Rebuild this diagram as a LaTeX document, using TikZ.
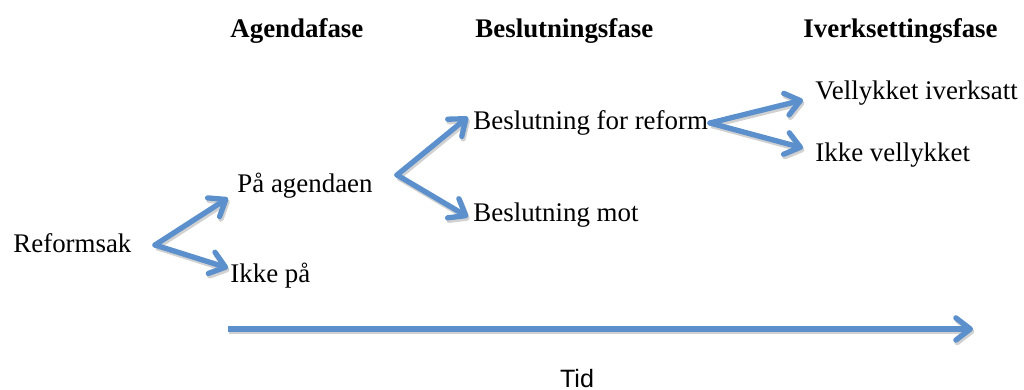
\documentclass[tikz,border=0pt]{standalone}
\usepackage{fontspec}
\setmainfont{Liberation Serif}
\setsansfont{Liberation Sans}
\usetikzlibrary{arrows.meta,positioning}
\definecolor{pilblaa}{RGB}{91,144,204}

\begin{document}
\begin{tikzpicture}[x=0.45pt,y=-0.45pt,
  every node/.style={inner sep=0pt,anchor=base west,font=\fontsize{12.1}{14}\selectfont},
  fase/.style={font=\fontsize{12.1}{14}\selectfont\bfseries},
  pil/.style={draw=pilblaa,line width=2.4pt,line cap=round,line join=round,
    -{Straight Barb[length=6.5pt,width=10pt,line cap=round,line join=round]},
    preaction={draw=black!18,line width=2.4pt,transform canvas={shift={(0.6pt,-1.1pt)}},
      -{Straight Barb[length=6.5pt,width=10pt,line cap=round,line join=round]}}}]
\useasboundingbox (0,0) rectangle (1024,390);
% faser
\node[fase] (agenda) at (230,38) {Agendafase};
\node[fase] (beslfase) at (475,38) {Beslutningsfase};
\node[fase] (iverkfase) at (803,38) {Iverksettingsfase};
% utfall
\node (reform) at (13,253) {Reformsak};
\node (paa) at (237,193) {På agendaen};
\node (ikkepaa) at (230,283) {Ikke på};
\node (bfor) at (473,130) {Beslutning for reform};
\node (bmot) at (473,222) {Beslutning mot};
\node (vell) at (815,100) {Vellykket iverksatt};
\node (ikkevell) at (815,162) {Ikke vellykket};
\node[anchor=base,font=\sffamily\fontsize{11.3}{13}\selectfont] (tid) at (577,388) {Tid};
% forgreninger
\coordinate (f1) at (155,245);
\coordinate (f2) at (397,175);
\coordinate (f3) at (710,123);
\coordinate (t0) at (228,329);
\coordinate (t1) at (973,329);
\draw[pil] (f1) -- ([shift={(-9,5)}]paa.base west);
\draw[pil] (f1) -- ([shift={(-2,-15)}]ikkepaa.base west);
\draw[pil] (f2) -- ([shift={(-5,-13)}]bfor.base west);
\draw[pil] (f2) -- ([shift={(-5,-5)}]bmot.base west);
\draw[pil] (f3) -- ([shift={(-12,0)}]vell.base west);
\draw[pil] (f3) -- ([shift={(-12,-14)}]ikkevell.base west);
\draw[pil,line cap=butt] (t0) -- (t1);
\end{tikzpicture}
\end{document}
